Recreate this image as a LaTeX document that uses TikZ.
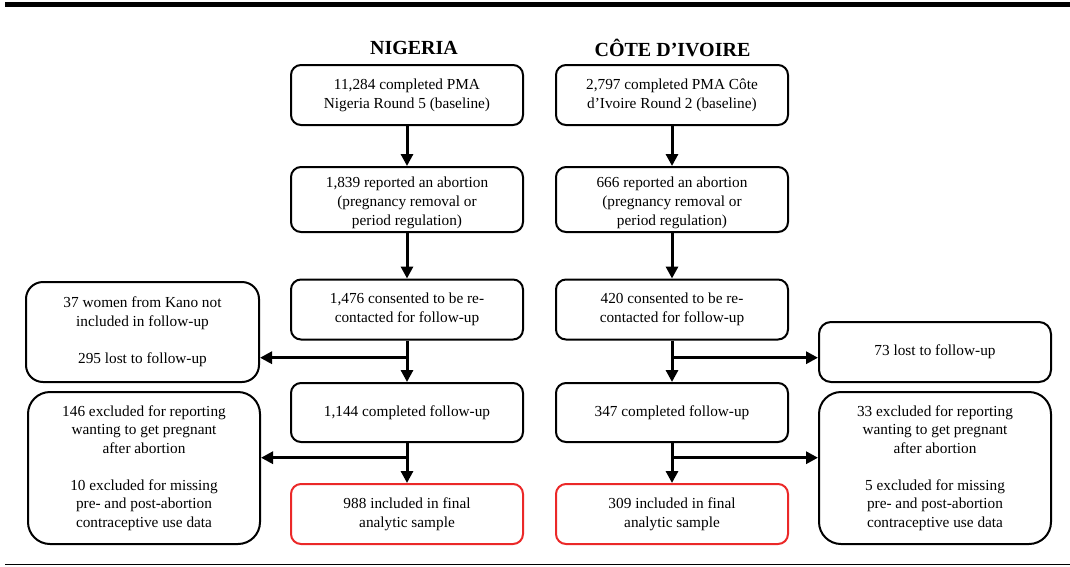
\documentclass[tikz,border=0pt]{standalone}
\usepackage{fontspec}
\setmainfont{Liberation Serif}
\usetikzlibrary{arrows.meta}
\definecolor{boxred}{RGB}{235,40,40}
\begin{document}
\begin{tikzpicture}[x=1pt,y=-1pt,
  box/.style={draw, line width=2pt, rounded corners=10pt, minimum width=232pt,
    align=center, inner sep=0pt, font=\fontsize{15.3}{18.7}\selectfont},
  redbox/.style={box, draw=boxred},
  sidebox/.style={box, rounded corners=20pt},
  lowtext/.style={label={[align=center, inner sep=0pt, font=\fontsize{15.3}{18.9}\selectfont, yshift=-3.5pt]center:#1}},
  title/.style={font=\fontsize{20}{24}\selectfont\bfseries, inner sep=0pt},
  flow/.style={line width=3pt, -{Triangle[length=12pt,width=12pt]}}]
\useasboundingbox (0,0) rectangle (1070,566);
\fill (5,1.7) rectangle (1070,7.3);
\draw[line width=1pt] (5,564.5) -- (1070,564.5);

\node[title] (tN) at (414,47.5) {NIGERIA};
\node[title] (tC) at (672.5,47.5) {CÔTE D’IVOIRE};

% Nigeria column
\node[box, minimum height=60pt] (n1) at (407,95) {11,284 completed PMA\\Nigeria Round 5 (baseline)};
\node[box, minimum height=65pt, lowtext={1,839 reported an abortion\\(pregnancy removal or\\period regulation)}] (n2) at (407,199.5) {};
\node[box, minimum height=60pt] (n3) at (407,309.5) {1,476 consented to be re-\\contacted for follow-up};
\node[box, minimum height=59pt] (n4) at (407,412.5) {1,144 completed follow-up};
\node[redbox, minimum height=60pt] (n5) at (407,514) {988 included in final\\analytic sample};

% Cote d'Ivoire column
\node[box, minimum height=60pt] (c1) at (672,95) {2,797 completed PMA Côte\\d’Ivoire Round 2 (baseline)};
\node[box, minimum height=65pt, lowtext={666 reported an abortion\\(pregnancy removal or\\period regulation)}] (c2) at (672,199.5) {};
\node[box, minimum height=60pt] (c3) at (672,309.5) {420 consented to be re-\\contacted for follow-up};
\node[box, minimum height=59pt] (c4) at (672,412.5) {347 completed follow-up};
\node[redbox, minimum height=60pt] (c5) at (672,514) {309 included in final\\analytic sample};

% side boxes
\node[sidebox, rounded corners=17pt, minimum width=233pt, minimum height=100pt] (lA) at (142.5,332)
  {37 women from Kano not\\included in follow-up\\[18.7pt]295 lost to follow-up};
\node[sidebox, rounded corners=22pt, minimum height=152pt] (lB) at (144,468)
  {146 excluded for reporting\\wanting to get pregnant\\after abortion\\[18pt]10 excluded for missing\\pre- and post-abortion\\contraceptive use data};
\node[box, rounded corners=12pt, minimum height=60pt] (rA) at (935,352) {73 lost to follow-up};
\node[sidebox, rounded corners=22pt, minimum height=152pt] (rB) at (935,468)
  {33 excluded for reporting\\wanting to get pregnant\\after abortion\\[18pt]5 excluded for missing\\pre- and post-abortion\\contraceptive use data};

% connectors
\draw[flow] (n1) -- (n2);
\draw[flow] (n2) -- (n3);
\draw[flow] (n3) -- (n4);
\draw[flow] (n4) -- (n5);
\draw[flow] (c1) -- (c2);
\draw[flow] (c2) -- (c3);
\draw[flow] (c3) -- (c4);
\draw[flow] (c4) -- (c5);

\coordinate (bN1) at (407,357.7);
\coordinate (bN2) at (407,457.7);
\coordinate (bC1) at (672,357.7);
\coordinate (bC2) at (672,457.7);
\draw[flow] (bN1) -- (bN1 -| lA.east);
\draw[flow] (bN2) -- (bN2 -| lB.east);
\draw[flow] (bC1) -- (bC1 -| rA.west);
\draw[flow] (bC2) -- (bC2 -| rB.west);
\end{tikzpicture}
\end{document}
